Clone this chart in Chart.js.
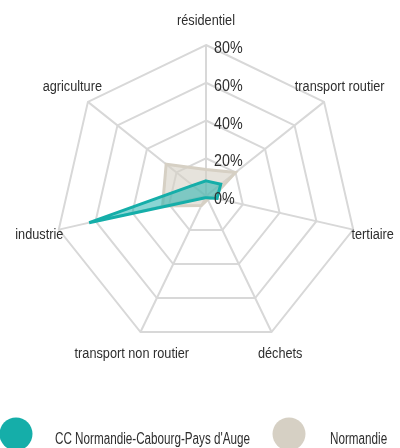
<!DOCTYPE html>
<html>
<head>
<meta charset="utf-8">
<script src="https://cdn.jsdelivr.net/npm/chart.js@4/dist/chart.umd.min.js"></script>
<style>
  html, body { margin: 0; padding: 0; background: #fff; }
  #wrap { position: relative; width: 400px; height: 448px; overflow: hidden; }
</style>
</head>
<body>
<div id="wrap"><canvas id="radar" width="400" height="448"></canvas></div>
<script>
// sectors, clockwise from the top
const sectors = ['résidentiel', 'transport routier', 'tertiaire', 'déchets',
                 'transport non routier', 'industrie', 'agriculture'];
// share of emissions (%)
const ccValues = [8, 10, 6, 1, 1, 63.5, 9];
const normandieValues = [14, 20, 3.5, 2, 5.6, 23.6, 27];
const seriesNames = ['CC Normandie-Cabourg-Pays d\'Auge', 'Normandie'];
const tickValues = [0, 20, 40, 60, 80];

const TEAL = '#15aea9';
const BEIGE = '#d6d0c4';
const FONT = "'Liberation Sans', Arial, sans-serif";
const TEXT = '#2e2e2e';

// squeeze the sans into a narrow face
function narrowText(ctx, text, x, y, align, sx) {
    ctx.save();
    ctx.translate(x, y);
    ctx.scale(sx, 1);
    ctx.textAlign = align;
    ctx.fillText(text, 0, 0);
    ctx.restore();
}

// tick labels, sector names and legend are painted by hand
const labelsPlugin = {
    id: 'labels',
    afterDraw(chart) {
        const ctx = chart.ctx;
        const scale = chart.scales.r;
        ctx.save();
        ctx.fillStyle = TEXT;

        // value ticks, right of the vertical axis
        ctx.font = '17px ' + FONT;
        ctx.textBaseline = 'alphabetic';
        tickValues.forEach(v => {
            const y = scale.yCenter - scale.getDistanceFromCenterForValue(v);
            narrowText(ctx, v + '%', scale.xCenter + 8, y + 8, 'left', 0.84);
        });

        // sector names around the web
        ctx.font = '15.5px ' + FONT;
        ctx.textBaseline = 'middle';
        sectors.forEach((name, i) => {
            const p = scale.getPointPosition(i, scale.drawingArea + 20);
            const dy = (p.y - scale.yCenter) / (scale.drawingArea + 20);
            narrowText(ctx, name, p.x, p.y + 4 * dy, 'center', 0.82);
        });

        // legend
        const items = [{ x: 16, text: 55 }, { x: 289, text: 330 }];
        ctx.font = '16px ' + FONT;
        ctx.textBaseline = 'alphabetic';
        chart.data.datasets.forEach((ds, i) => {
            ctx.fillStyle = ds.borderColor;
            ctx.beginPath();
            ctx.arc(items[i].x, 434, 16.5, 0, Math.PI * 2);
            ctx.fill();
            ctx.fillStyle = TEXT;
            narrowText(ctx, ds.label, items[i].text, 444, 'left', 0.73);
        });
        ctx.restore();
    }
};

new Chart(document.getElementById('radar'), {
    type: 'radar',
    data: {
        labels: sectors,
        datasets: [
            {
                label: seriesNames[0],
                data: ccValues,
                borderColor: TEAL,
                backgroundColor: 'rgba(21, 174, 169, 0.5)',
                borderWidth: 3,
                borderJoinStyle: 'miter',
                pointRadius: 0,
                fill: true
            },
            {
                label: seriesNames[1],
                data: normandieValues,
                borderColor: BEIGE,
                backgroundColor: 'rgba(214, 208, 196, 0.6)',
                borderWidth: 3,
                borderJoinStyle: 'miter',
                pointRadius: 0,
                fill: true
            }
        ]
    },
    options: {
        responsive: false,
        animation: false,
        layout: { padding: { left: 55, right: 43, top: 45, bottom: 101 } },
        plugins: { legend: { display: false }, tooltip: { enabled: false } },
        scales: {
            r: {
                min: 0,
                max: 80,
                ticks: { display: false, stepSize: 20 },
                pointLabels: { display: false },
                grid: { color: '#d8d8d8', lineWidth: 2, circular: false },
                angleLines: { color: '#d8d8d8', lineWidth: 2 }
            }
        }
    },
    plugins: [labelsPlugin]
});
</script>
</body>
</html>
